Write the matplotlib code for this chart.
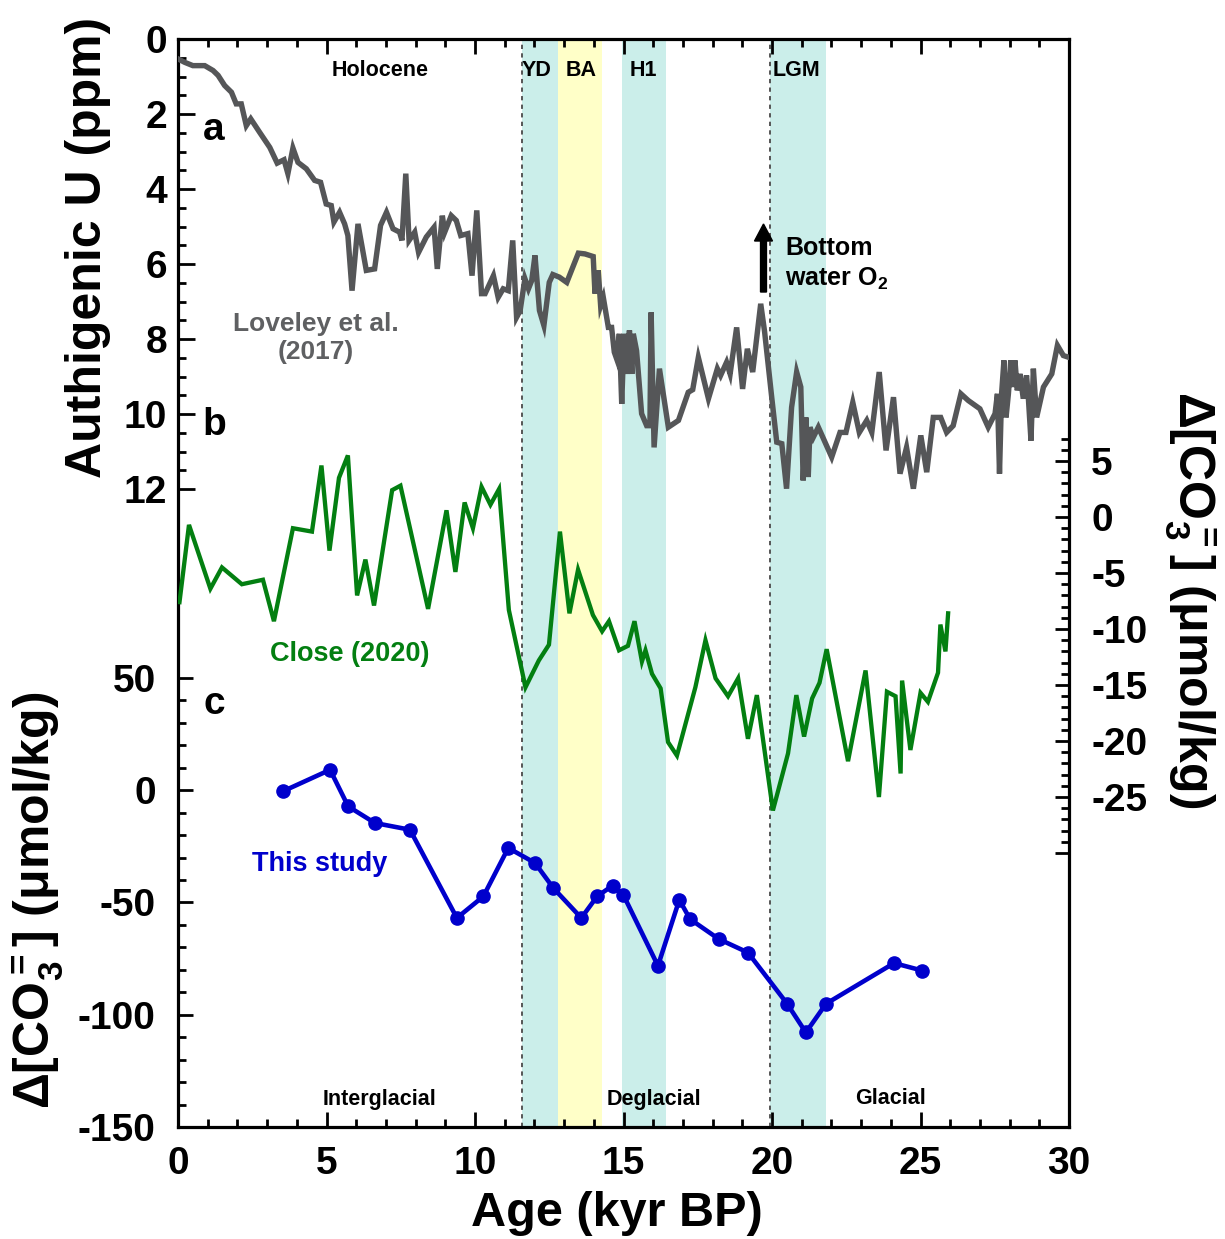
import numpy as np
import matplotlib
matplotlib.use('Agg')
import matplotlib.pyplot as plt
from matplotlib.ticker import FixedLocator, FixedFormatter

plt.rcParams['font.family'] = ['Liberation Sans', 'DejaVu Sans']
plt.rcParams['font.weight'] = 'bold'
plt.rcParams['axes.unicode_minus'] = False
plt.rcParams['mathtext.fontset'] = 'custom'
plt.rcParams['mathtext.rm'] = 'Liberation Sans'
plt.rcParams['mathtext.it'] = 'Liberation Sans:italic'
plt.rcParams['mathtext.bf'] = 'Liberation Sans:bold'

# ---------------- data ----------------
# a: authigenic U, Loveley et al. (2017)
u_age = [0.00, 0.22, 0.50, 0.90, 1.18, 1.35, 1.57, 1.80, 1.96, 2.13, 2.30, 2.45, 2.75, 3.09,
         3.34, 3.57, 3.70, 3.87, 4.04, 4.32, 4.60, 4.80, 4.99, 5.16, 5.25, 5.44, 5.61, 5.72,
         5.86, 6.06, 6.34, 6.62, 6.82, 7.02, 7.24, 7.46, 7.54, 7.67, 7.78, 7.97, 8.10, 8.36,
         8.62, 8.73, 8.90, 8.98, 9.20, 9.37, 9.52, 9.76, 9.90, 10.06,
         10.22, 10.34, 10.62, 10.78, 10.95, 11.12, 11.27, 11.40, 11.52, 11.68, 11.80, 11.91,
         12.02, 12.17, 12.32, 12.50, 12.62, 12.84, 13.09, 13.48, 13.70, 13.98, 14.04, 14.15,
         14.23, 14.32, 14.49, 14.60, 14.69, 14.77, 14.86, 14.94, 15.02, 15.11, 15.20, 15.28,
         15.33, 15.44, 15.61, 15.78, 15.89, 15.93, 16.03, 16.21, 16.51, 16.85, 17.18, 17.33,
         17.52, 17.86, 18.16, 18.27, 18.47, 18.59, 18.81, 19.01, 19.17, 19.35, 19.62, 19.75,
         19.99, 20.16, 20.33, 20.49, 20.66, 20.83, 20.97, 21.05, 21.14, 21.22, 21.28, 21.39,
         21.56, 22.01, 22.29, 22.49, 22.72, 22.94, 23.19, 23.36, 23.61, 23.84, 24.09, 24.31,
         24.53, 24.76, 25.01, 25.21, 25.43, 25.68, 25.88, 26.10, 26.36, 26.61, 27.00, 27.28,
         27.51, 27.59, 27.66, 27.73, 27.81, 27.88, 27.96, 28.04, 28.11, 28.18, 28.26, 28.35,
         28.46, 28.57, 28.63, 28.72, 28.80, 28.91, 29.14, 29.42, 29.61, 29.81, 30.00]
u_ppm = [0.53, 0.62, 0.71, 0.71, 0.84, 0.97, 1.24, 1.42, 1.73, 1.73, 2.31, 2.13, 2.49, 2.89,
         3.31, 3.22, 3.59, 2.91, 3.29, 3.46, 3.77, 3.82, 4.40, 4.44, 4.88, 4.62, 4.93, 5.24,
         6.71, 4.93, 6.17, 6.13, 4.97, 4.62, 5.06, 5.15, 5.37, 3.59, 5.37, 5.15, 5.69, 5.28,
         5.02, 6.13, 4.71, 5.15, 4.71, 4.84, 5.24, 5.19, 6.31, 4.57,
         6.79, 6.79, 6.31, 6.89, 6.66, 6.71, 5.37, 7.42, 7.24, 6.39, 6.66, 6.44,
         5.77, 7.24, 7.64, 6.49, 6.28, 6.35, 6.49, 5.71, 5.73, 5.80, 6.79, 6.17,
         7.11, 6.89, 7.69, 7.69, 8.35, 8.53, 7.86, 9.73, 7.86, 8.93, 7.77, 8.93,
         7.86, 8.31, 9.99, 10.31, 10.31, 7.29, 10.89, 8.79, 10.35, 10.17, 9.42, 9.35,
         8.49, 9.59, 8.79, 8.97, 8.62, 8.93, 7.69, 9.33, 8.26, 8.88, 7.06, 7.80,
         9.55, 10.75, 10.79, 11.99, 9.82, 8.88, 9.28, 11.77, 10.09, 11.68, 10.35, 10.62,
         10.35, 11.15, 10.49, 10.49, 9.69, 10.49, 10.17, 10.49, 8.88, 10.97, 9.55, 11.59,
         10.89, 11.99, 10.57, 11.55, 10.09, 10.09, 10.49, 10.31, 9.46, 9.64, 9.86, 10.35,
         9.99, 9.46, 11.59, 9.46, 8.57, 10.09, 9.46, 8.57, 9.28, 8.57, 9.37, 8.93,
         9.59, 8.97, 9.55, 10.71, 8.79, 10.09, 9.28, 8.93, 8.17, 8.44, 8.49]

# b: Close (2020) d[CO3=], right axis
close_age = [0.05, 0.37, 1.09, 1.48, 2.15, 2.86, 3.23, 3.87, 4.51, 4.83, 5.10, 5.42, 5.72, 6.03,
             6.31, 6.60, 7.21, 7.49, 8.42, 9.04, 9.34, 9.65, 9.93, 10.22, 10.52, 10.81, 11.14,
             11.70, 12.15, 12.49, 12.86, 13.18, 13.47, 13.97, 14.28, 14.51, 14.85, 15.15, 15.37,
             15.62, 15.74, 15.96, 16.25, 16.50, 16.80, 17.42, 17.76, 18.10, 18.52, 18.86, 19.19,
             19.49, 20.03, 20.54, 20.82, 21.08, 21.35, 21.60, 21.84, 22.56, 23.15, 23.60, 23.87,
             24.16, 24.33, 24.38, 24.66, 25.00, 25.25, 25.59, 25.67, 25.84, 25.93]
close_co3 = [-7.6, -0.7, -6.4, -4.5, -6.0, -5.6, -9.3, -1.0, -1.3, 4.6, -3.0, 3.5, 5.5, -7.0,
             -3.8, -7.9, 2.4, 2.8, -8.2, 0.6, -4.9, 1.3, -1.0, 2.7, 1.1, 2.5, -8.3,
             -15.2, -12.8, -11.4, -1.3, -8.6, -4.7, -8.75, -10.2, -9.3, -11.9, -11.5, -9.3,
             -12.9, -11.9, -14.0, -15.3, -20.1, -21.3, -15.2, -11.0, -14.4, -16.0, -14.4, -19.8,
             -15.9, -26.2, -21.1, -15.9, -19.6, -16.2, -14.8, -11.8, -21.8, -13.7, -25.0, -15.6,
             -16.0, -22.9, -14.6, -20.8, -15.7, -16.5, -13.9, -9.6, -12.0, -8.6]

# c: this study
this_age = [3.53, 5.12, 5.73, 6.63, 7.81, 9.39, 10.28, 11.12, 12.02, 12.64, 13.58, 14.11,
            14.63, 14.99, 16.16, 16.88, 17.24, 18.21, 19.19, 20.51, 21.14, 21.82, 24.11, 25.05]
this_co3 = [-0.5, 9.1, -7.2, -14.6, -17.6, -56.9, -47.3, -25.7, -32.4, -43.6, -56.9, -47.3,
            -42.5, -46.5, -78.2, -48.8, -57.4, -66.3, -72.3, -95.1, -107.9, -95.1, -77.0, -80.3]

# climate intervals
cyan_spans = [(11.57, 12.80), (14.96, 16.42), (19.93, 21.82)]
yellow_spans = [(12.80, 14.27)]
dotted_x = [11.57, 19.92]

W, H = 1225, 1239
def fx(px):
    return px / W
def fy(py):
    return 1 - py / H

fig = plt.figure(figsize=(12.25, 12.39), dpi=100)
ax = fig.add_axes([fx(178), fy(1127), (1069 - 178) / W, (1127 - 39) / H])
ax_u = ax.twinx()
ax_r = ax.twinx()

cyan = '#CBEEEA'
yellow = '#FFFFC8'
for a, b in cyan_spans:
    ax.axvspan(a, b, color=cyan, lw=0, zorder=0)
for a, b in yellow_spans:
    ax.axvspan(a, b, color=yellow, lw=0, zorder=0)
for xv in dotted_x:
    ax.axvline(xv, color='#555555', lw=1.4, ls=(0, (2.2, 2.2)), zorder=1)

ax.set_xlim(0, 30)
ax.set_ylim(-150, 334.6)
ax_u.set_ylim(29.01, 0)
ax_r.set_ylim(-54.46, 42.68)

# lines
ax_u.plot(u_age, u_ppm, color='#555658', lw=3.9, solid_joinstyle='miter', zorder=3)
ax_r.plot(close_age, close_co3, color='#037F11', lw=3.1, solid_joinstyle='miter', zorder=3)
ax.plot(this_age, this_co3, color='#0000CC', lw=3.3, marker='o', ms=9.5, zorder=3)

# spines
for s in ax.spines.values():
    s.set_linewidth(2.3)
for t in (ax_u, ax_r):
    for s in t.spines.values():
        s.set_visible(False)

tick_kw = dict(direction='in', width=2.0, color='black')
# x axis
ax.xaxis.set_major_locator(FixedLocator(range(0, 31, 5)))
ax.xaxis.set_minor_locator(FixedLocator(range(0, 31, 1)))
ax.tick_params(axis='x', which='both', top=True, bottom=True, **tick_kw)
ax.tick_params(axis='x', which='major', length=11, labelsize=28, pad=14)
ax.tick_params(axis='x', which='minor', length=6)

# lower left axis
ax.yaxis.set_major_locator(FixedLocator([-150, -100, -50, 0, 50]))
ax.yaxis.set_minor_locator(FixedLocator(range(-150, 51, 10)))
ax.tick_params(axis='y', which='both', left=True, right=False, **tick_kw)
ax.tick_params(axis='y', which='major', length=11, labelsize=28, pad=16)
ax.tick_params(axis='y', which='minor', length=6)

# upper left axis (U)
ax_u.yaxis.tick_left()
ax_u.yaxis.set_major_locator(FixedLocator(range(0, 13, 2)))
ax_u.yaxis.set_minor_locator(FixedLocator(np.arange(0, 12.01, 0.5)))
ax_u.tick_params(axis='y', which='both', left=True, right=False, **tick_kw)
ax_u.tick_params(axis='y', which='major', length=12, labelsize=28, pad=8)
ax_u.tick_params(axis='y', which='minor', length=6)

# right axis
r_major = [-30, -25, -20, -15, -10, -5, 0, 5]
ax_r.yaxis.set_major_locator(FixedLocator(r_major))
ax_r.yaxis.set_major_formatter(FixedFormatter(['' if v == -30 else str(v) for v in r_major]))
ax_r.yaxis.set_minor_locator(FixedLocator(range(-30, 8, 1)))
ax_r.tick_params(axis='y', which='both', right=True, left=False, **tick_kw)
ax_r.tick_params(axis='y', which='major', length=10, labelsize=28, pad=16)
ax_r.tick_params(axis='y', which='minor', length=6)

for t in (ax, ax_u, ax_r):
    for lab in t.get_xticklabels() + t.get_yticklabels():
        lab.set_fontweight('bold')

# axis titles
co3_label = r'$\Delta$[CO$_\mathbf{3}^\mathbf{=}$] ($\mathrm{\mu}$mol/kg)'
fig.text(fx(88), fy(247), 'Authigenic U (ppm)', rotation=90, fontsize=36,
         fontweight='bold', ha='center', va='center')
fig.text(fx(38), fy(900), co3_label, rotation=90, fontsize=36,
         fontweight='bold', ha='center', va='center')
fig.text(fx(1190), fy(600), co3_label, rotation=270, fontsize=36,
         fontweight='bold', ha='center', va='center')
fig.text(fx(617), fy(1213), 'Age (kyr BP)', fontsize=35, fontweight='bold',
         ha='center', va='center')

# interval labels
for s, px in [('Holocene', 380), ('YD', 537), ('BA', 581), ('H1', 643), ('LGM', 797)]:
    fig.text(fx(px), fy(70), s, fontsize=15.5, fontweight='bold', ha='center', va='center')
for s, px in [('Interglacial', 380), ('Deglacial', 654), ('Glacial', 891)]:
    fig.text(fx(px), fy(1099), s, fontsize=15.5, fontweight='bold', ha='center', va='center')

# panel letters
for s, py in [('a', 130), ('b', 425), ('c', 704)]:
    fig.text(fx(214), fy(py), s, fontsize=28, fontweight='bold', ha='center', va='center')

fig.text(fx(316), fy(338), 'Loveley et al.\n(2017)', fontsize=19, fontweight='bold',
         color='#5F6062', ha='center', va='center', linespacing=1.25)
fig.text(fx(350), fy(654), 'Close (2020)', fontsize=19.5, fontweight='bold',
         color='#037F11', ha='center', va='center')
fig.text(fx(320), fy(864), 'This study', fontsize=19.5, fontweight='bold',
         color='#0000CC', ha='center', va='center')

fig.text(fx(785), fy(264), 'Bottom\nwater O$_\\mathbf{2}$', fontsize=18, fontweight='bold',
         ha='left', va='center', linespacing=1.25)
fig.patches.append(matplotlib.patches.FancyArrow(
    fx(763.5), fy(292), 0, fy(224) - fy(292), width=6 / H, head_width=18 / W,
    head_length=17 / H, length_includes_head=True, color='black',
    transform=fig.transFigure, figure=fig))

fig.savefig('out.png', dpi=100)
